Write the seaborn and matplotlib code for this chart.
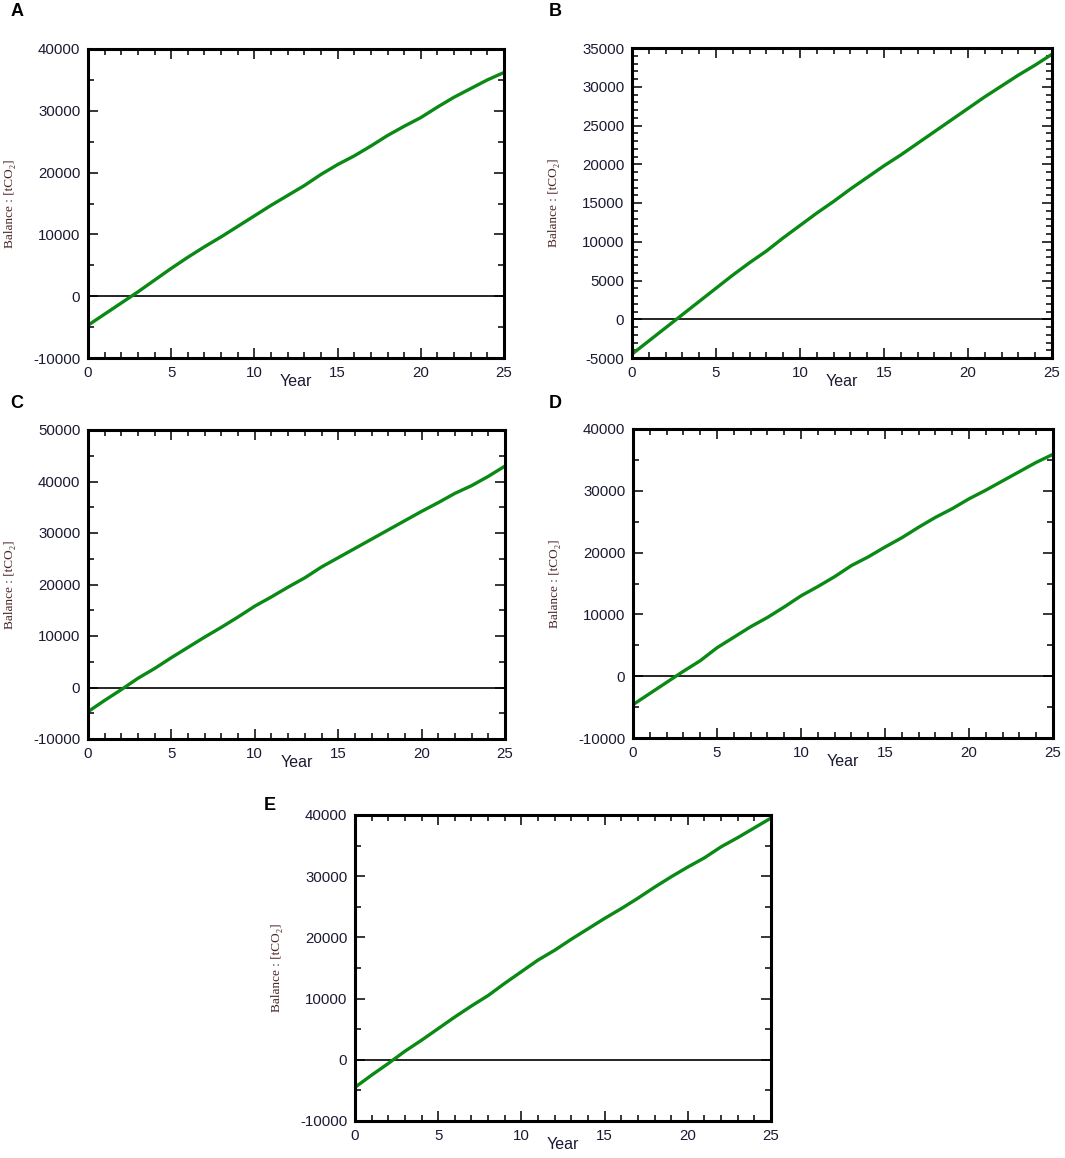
# Balance [tCO2] over 25 years, five scenarios (A-E)

import pandas as pd
import matplotlib
matplotlib.use('Agg')
from matplotlib import pyplot as plt
from matplotlib.ticker import MultipleLocator
import seaborn as sns

sns.set_style('ticks')
plt.rcParams['font.family'] = ['Liberation Sans', 'DejaVu Sans']
plt.rcParams['axes.unicode_minus'] = False

# Data (one value per year)
years = list(range(26))
balance_a = [-4700, -2900, -1100, 700, 2600, 4500, 6300, 8000, 9600, 11300,
             13000, 14700, 16300, 17900, 19700, 21300, 22700, 24300, 26000,
             27500, 28900, 30600, 32200, 33600, 35000, 36200]
balance_b = [-4500, -2800, -1100, 600, 2300, 4000, 5700, 7300, 8800, 10500,
             12100, 13700, 15200, 16800, 18300, 19800, 21200, 22700, 24200,
             25700, 27200, 28700, 30100, 31500, 32800, 34200]
balance_c = [-4700, -2500, -400, 1800, 3700, 5800, 7800, 9800, 11700, 13700,
             15800, 17600, 19500, 21300, 23400, 25200, 27000, 28800, 30600,
             32400, 34200, 35900, 37700, 39200, 41000, 43000]
balance_d = [-4600, -2800, -1000, 800, 2500, 4600, 6300, 8000, 9500, 11200,
             13000, 14500, 16100, 17900, 19300, 20900, 22400, 24100, 25700,
             27100, 28700, 30100, 31600, 33100, 34600, 35900]
balance_e = [-4500, -2500, -600, 1400, 3200, 5100, 7000, 8800, 10500, 12500,
             14400, 16300, 17900, 19700, 21400, 23100, 24700, 26400, 28200,
             29900, 31500, 33000, 34800, 36300, 37900, 39500]

panels = ['A', 'B', 'C', 'D', 'E']
series = [balance_a, balance_b, balance_c, balance_d, balance_e]
y_limits = [(-10000, 40000), (-5000, 35000), (-10000, 50000),
            (-10000, 40000), (-10000, 40000)]
y_major = [10000, 5000, 10000, 10000, 10000]
y_minor = [5000, 1000, 5000, 5000, 5000]

df = pd.DataFrame({'Year': years * 5,
                   'Balance': sum(series, []),
                   'panel': [p for p in panels for _ in years]})

# Layout in pixels (left, top, right, bottom) and letter positions
W, H = 1065, 1158
boxes = [(88, 49, 504, 358), (632, 48, 1052, 358),
         (88, 430, 505, 739), (633, 429, 1053, 738),
         (355, 815, 771, 1121)]
letters = [(17, 12), (555, 12), (17, 403), (555, 403), (270, 805)]

fig = plt.figure(figsize=(W / 100, H / 100), dpi=100)

tick_color = '#1a1a33'
for i, p in enumerate(panels):
    l, t, r, b = boxes[i]
    ax = fig.add_axes([l / W, 1 - b / H, (r - l) / W, (b - t) / H])
    sns.lineplot(data=df[df['panel'] == p], x='Year', y='Balance',
                 color='#0a8a14', linewidth=2.4, ax=ax)
    ax.axhline(0, color='black', linewidth=1.2, zorder=1)

    ax.set_xlim(0, 25)
    ax.set_ylim(*y_limits[i])
    ax.xaxis.set_major_locator(MultipleLocator(5))
    ax.xaxis.set_minor_locator(MultipleLocator(1))
    ax.yaxis.set_major_locator(MultipleLocator(y_major[i]))
    ax.yaxis.set_minor_locator(MultipleLocator(y_minor[i]))
    ax.tick_params(which='both', direction='in', top=True, right=True,
                   color='black', width=1.1, labelsize=10.8,
                   labelcolor=tick_color, pad=5.5)
    ax.tick_params(which='major', length=7)
    ax.tick_params(which='minor', length=4)
    for s in ax.spines.values():
        s.set_linewidth(2.2)
        s.set_color('black')

    ax.set_xlabel('Year', fontsize=11.5, color=tick_color, labelpad=-4)
    ax.set_ylabel('Balance : [tCO₂]', fontsize=9.5, color='#4a2426',
                  family=['Liberation Serif', 'DejaVu Serif'])
    ax.yaxis.set_label_coords(-72 / (r - l), 0.5)

    lx, ly = letters[i]
    fig.text(lx / W, 1 - ly / H, p, fontsize=13, fontweight='bold',
             ha='center', va='center', color='black')

plt.savefig('out.png', dpi=100)
